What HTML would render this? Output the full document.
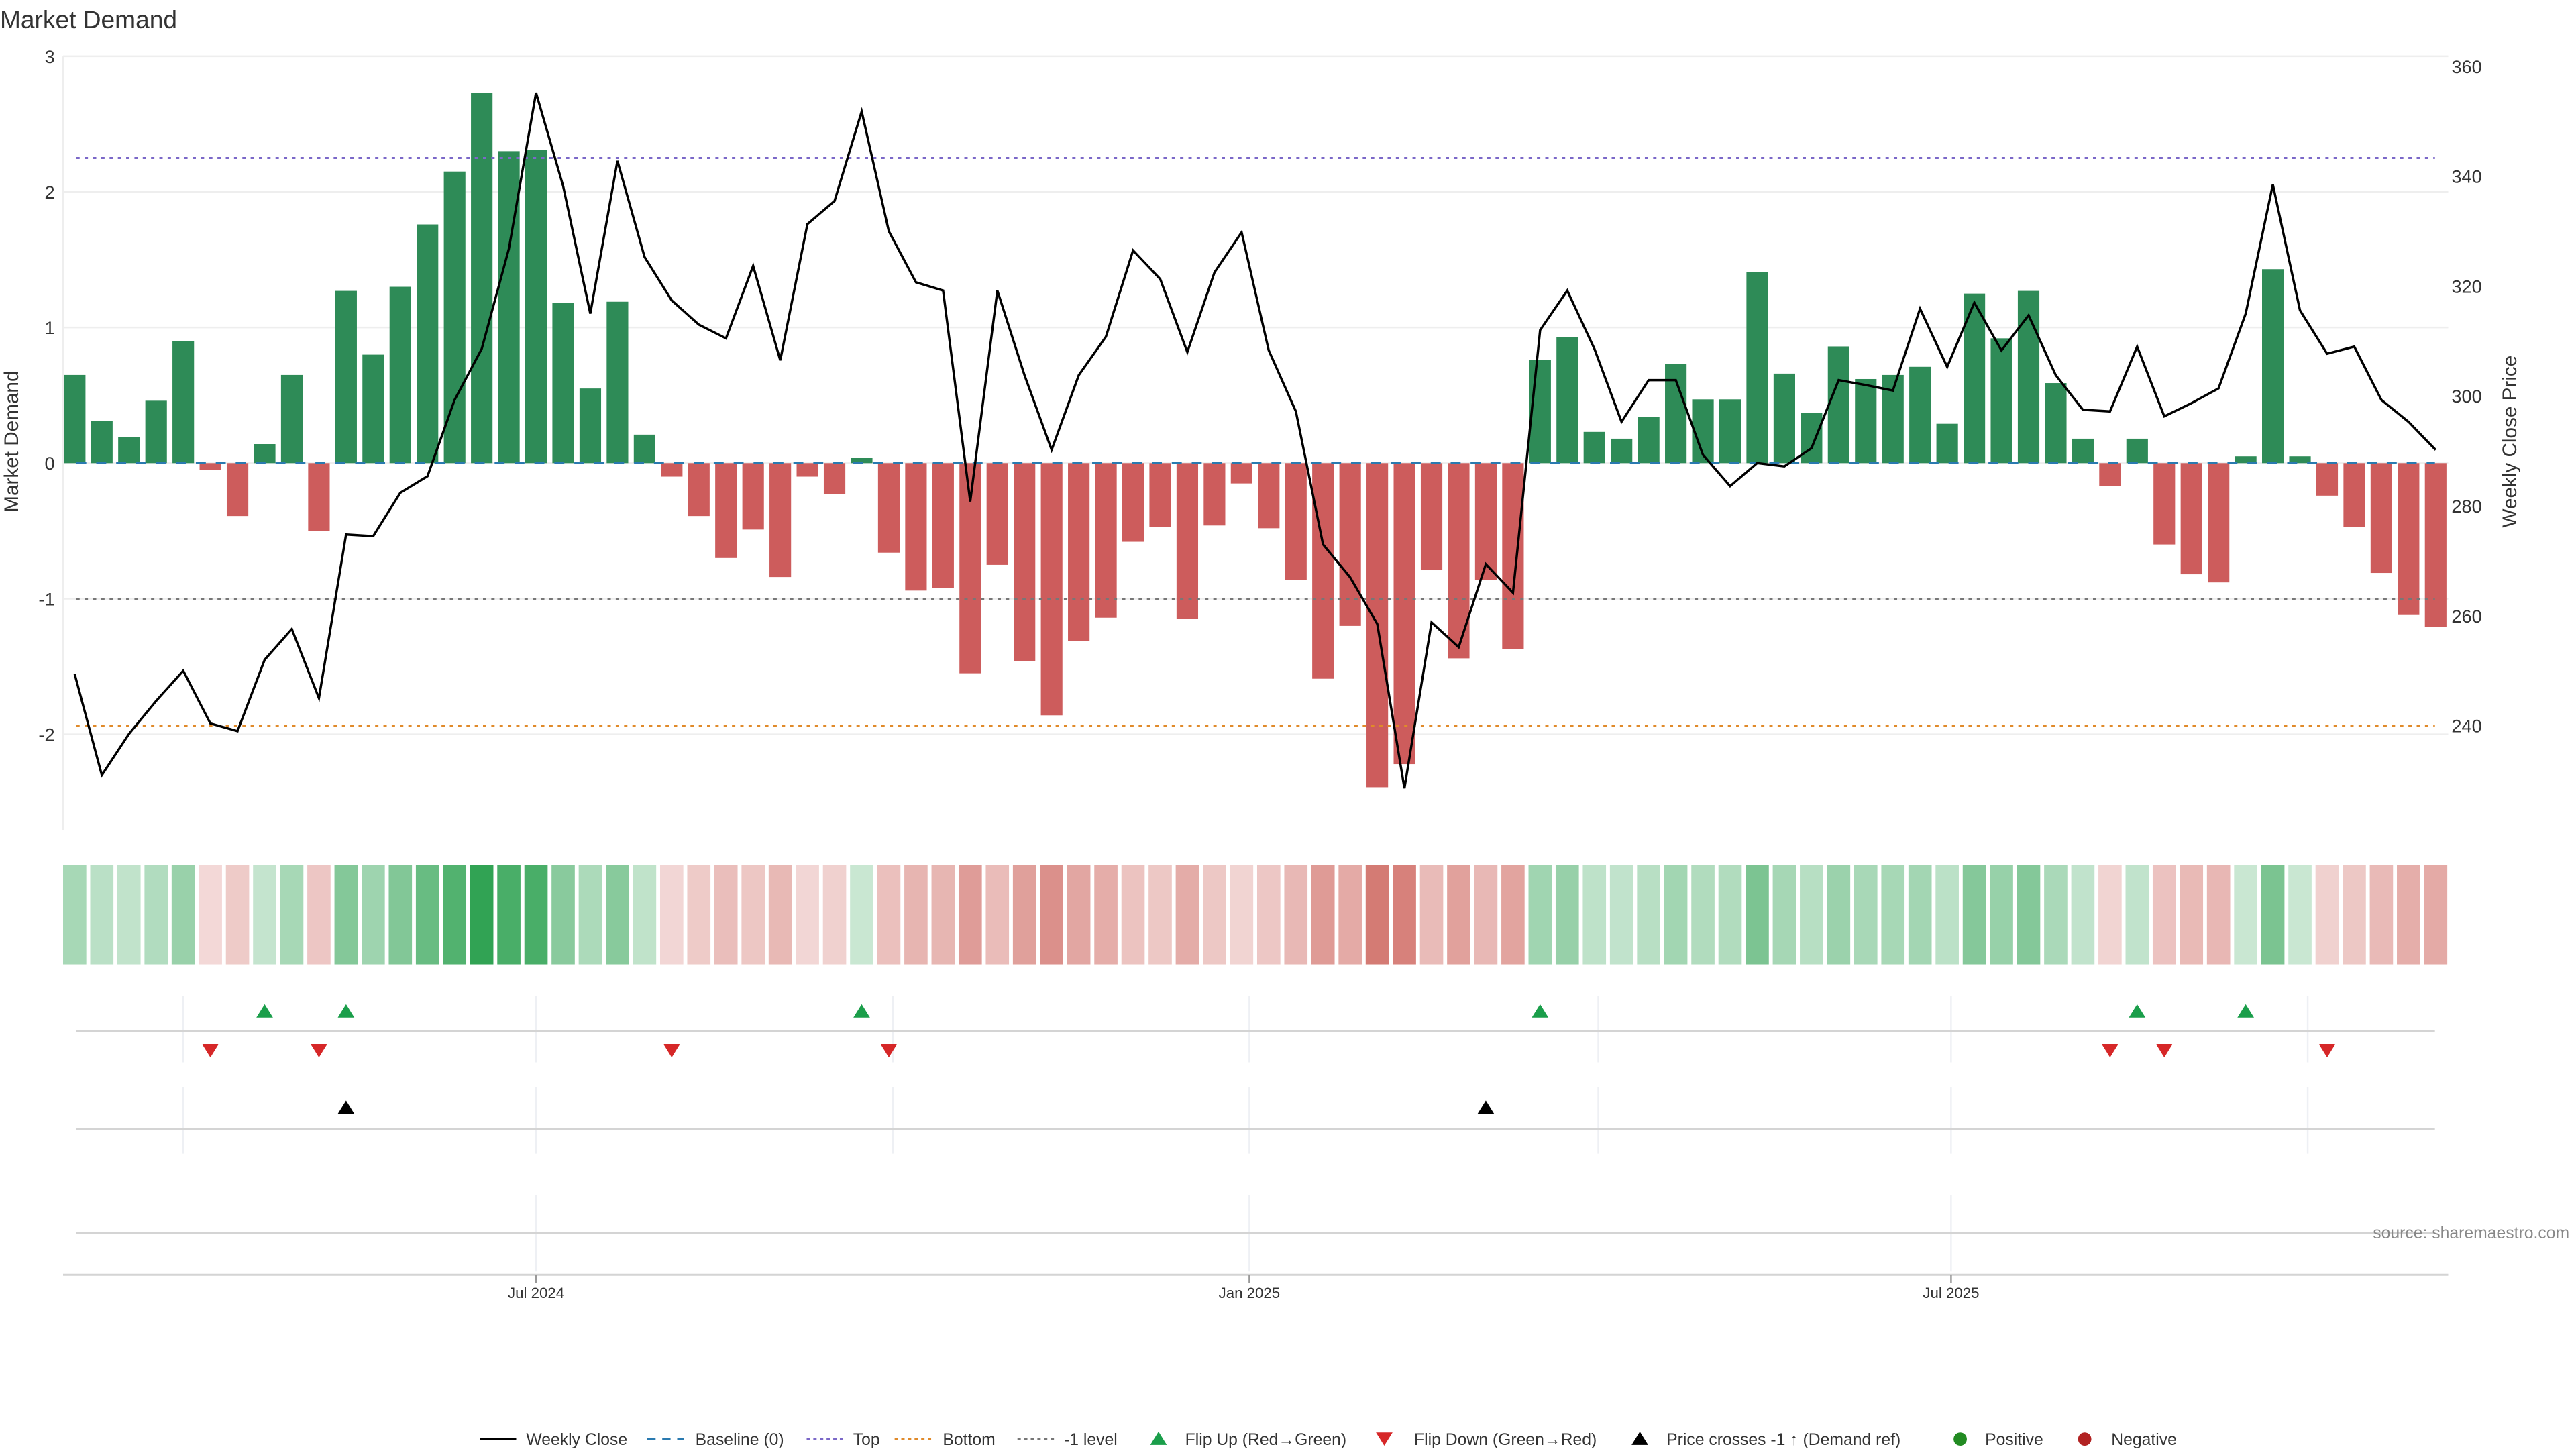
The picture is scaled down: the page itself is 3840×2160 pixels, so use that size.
<!DOCTYPE html>
<html><head><meta charset="utf-8"><title>Market Demand</title>
<style>html,body{margin:0;padding:0;background:#fff;}svg{display:block;font-family:"Liberation Sans","DejaVu Sans",sans-serif;}</style>
</head><body>
<svg id="chart" width="3840" height="2160" viewBox="0 0 1552 873" xmlns="http://www.w3.org/2000/svg">
<text x="0" y="17" font-size="15" fill="#333">Market Demand</text>
<g id="g"></g>
</svg>
<script>
const demand=[0.65,0.31,0.19,0.46,0.9,-0.05,-0.39,0.14,0.65,-0.5,1.27,0.8,1.3,1.76,2.15,2.73,2.3,2.31,1.18,0.55,1.19,0.21,-0.1,-0.39,-0.7,-0.49,-0.84,-0.1,-0.23,0.04,-0.66,-0.94,-0.92,-1.55,-0.75,-1.46,-1.86,-1.31,-1.14,-0.58,-0.47,-1.15,-0.46,-0.15,-0.48,-0.86,-1.59,-1.2,-2.39,-2.22,-0.79,-1.44,-0.86,-1.37,0.76,0.93,0.23,0.18,0.34,0.73,0.47,0.47,1.41,0.66,0.37,0.86,0.62,0.65,0.71,0.29,1.25,0.92,1.27,0.59,0.18,-0.17,0.18,-0.6,-0.82,-0.88,0.05,1.43,0.05,-0.24,-0.47,-0.81,-1.12,-1.21];
const price=[249.4,231,238.5,244.5,250,240.4,239,252,257.6,245,274.8,274.5,282.4,285.4,299.3,308.6,326.8,355.2,338.2,315,342.8,325.3,317.4,313,310.5,323.7,306.5,331.3,335.5,351.8,330,320.7,319.2,280.8,319.2,303.8,290.2,303.8,310.8,326.5,321.3,308,322.5,329.8,308.3,297.2,273,267,258.5,228.6,258.8,254.3,269.4,264.2,312,319.2,308.6,295.3,302.9,302.9,289.3,283.6,287.8,287.2,290.5,302.9,302,301,315.9,305.3,317,308.3,314.7,303.8,297.5,297.2,309,296.3,298.7,301.4,315,338.5,315.6,307.7,309,299.3,295.3,290.2];
const flipUp=[7,10,29,54,76,80];
const flipDown=[5,9,22,30,75,77,83];
const priceCross=[10,52];
const leftTicks=[3,2,1,0,-1,-2];
const rightTicks=[360,340,320,300,280,260,240];
const refLevels={top:2.25,bottom:-1.94,minus1:-1};
const dateTicks=["2024-07-01","2025-01-01","2025-07-01"];
const dateTickLabels=["Jul 2024","Jan 2025","Jul 2025"];
const gridDates=["2024-04-01","2024-07-01","2024-10-01","2025-01-01","2025-04-01","2025-07-01","2025-10-01"];
const startDate="2024-03-04";

const NS="http://www.w3.org/2000/svg";
const g=document.getElementById('g');
function el(tag,attrs,parent){const e=document.createElementNS(NS,tag);for(const k in attrs)e.setAttribute(k,attrs[k]);(parent||g).appendChild(e);return e;}
const day=86400000;
const t0=Date.parse(startDate);
function xDate(s){return 45+(Date.parse(s)-t0)/day*16.35/7;}
function xi(i){return 45+i*16.35;}
function yL(v){return 279-v*81.7;}
function yR(p){return 40+(360-p)*3.31;}
const X0=46,X1=1467;

// gridlines & left ticks
leftTicks.forEach(v=>{
  const l=el('line',{x1:38,x2:1475,y1:yL(v),y2:yL(v),stroke:'#eeeeee','stroke-width':1});
  
  
  const t=el('text',{x:33,y:yL(v)+4,'font-size':11,fill:'#333','text-anchor':'end'});
  t.textContent=v;
  
  
});
rightTicks.forEach(p=>{
  const t=el('text',{x:1477,y:yR(p)+4,'font-size':11,fill:'#333'});
  t.textContent=p;
  
  
});
const la=el('line',{x1:38,x2:38,y1:34,y2:500,stroke:'#eeeeee'});


const yl=el('text',{x:0,y:0,'font-size':12,fill:'#333','text-anchor':'middle',transform:'translate(11,266) rotate(-90)'});
yl.textContent='Market Demand';


const yr=el('text',{x:0,y:0,'font-size':12,fill:'#333','text-anchor':'middle',transform:'translate(1516,266) rotate(-90)'});
yr.textContent='Weekly Close Price';



// bars
demand.forEach((v,i)=>{
  const y0=yL(0),y1=yL(v);
  const r=el('rect',{x:xi(i)-6.5,width:13,y:Math.min(y0,y1),height:Math.max(0.5,Math.abs(y1-y0)),fill:v>=0?'#2e8b57':'#cd5c5c'});
  
  
});
// reference lines
function hline(y,color,dash,name){const l=el('line',{x1:X0,x2:X1,y1:y,y2:y,stroke:color,'stroke-width':1.2,'stroke-dasharray':dash});
  
  }
hline(yL(0),'#2a7ab0','6 6','baseline-zero-line');
hline(yL(refLevels.top),'#7b68c8','2 3','top-level-line');
hline(yL(refLevels.bottom),'#e08a2a','2 3','bottom-level-line');
hline(yL(refLevels.minus1),'#777','2 3','minus-one-level-line');
// price line
const pl=el('polyline',{points:price.map((p,i)=>xi(i)+','+yR(p)).join(' '),fill:'none',stroke:'#000','stroke-width':1.4,'stroke-linejoin':'miter'});



// heat strip
const maxAbs=Math.max(...demand.map(Math.abs));
function mix(c,a){return 'rgb('+c.map(x=>Math.round(a*x+(1-a)*255)).join(',')+')';}
demand.forEach((v,i)=>{
  const a=0.25+0.75*Math.abs(v)/maxAbs;
  const c=v>=0?mix([49,163,84],a):mix([208,109,102],a);
  const r=el('rect',{x:xi(i)-7,width:14,y:521,height:60,fill:c});
  
  
});

// event panels
[[621,600,640],[680,655,695],[743,720,766]].forEach((row,k)=>{
  gridDates.forEach(d=>{
    if(k===2&&!dateTicks.includes(d))return;
    const v=el('line',{x1:xDate(d),x2:xDate(d),y1:row[1],y2:row[2],stroke:'#eef0f4'});
    
    
  });
  const l=el('line',{x1:X0,x2:X1,y1:row[0],y2:row[0],stroke:'#d4d4d4','stroke-width':1.2});
  
  
});
function tri(x,y,up,color,name){
  const p=up?`${x-5},${y+4} ${x+5},${y+4} ${x},${y-4}`:`${x-5},${y-4} ${x+5},${y-4} ${x},${y+4}`;
  const t=el('polygon',{points:p,fill:color});
  
  
}
flipUp.forEach(i=>tri(xi(i),609,true,'#1a9e4a','flip-up-marker'));
flipDown.forEach(i=>tri(xi(i),633,false,'#d62728','flip-down-marker'));
priceCross.forEach(i=>tri(xi(i),667,true,'#000','price-cross-marker'));

// x axis
const xa=el('line',{x1:38,x2:1475,y1:768,y2:768,stroke:'#d4d4d4','stroke-width':1.2});


dateTicks.forEach((d,k)=>{
  const x=xDate(d);
  const tk=el('line',{x1:x,x2:x,y1:768,y2:773,stroke:'#999'});
  
  
  const t=el('text',{x:x,y:782,'font-size':9,fill:'#333','text-anchor':'middle'});
  t.textContent=dateTickLabels[k];
  
  
});
const src=el('text',{x:1548,y:746,'font-size':10,fill:'#888','text-anchor':'end'});
src.textContent='source: sharemaestro.com';



// legend
const LY=867;
function legText(x,s,name){const t=el('text',{x:x,y:LY+3.5,'font-size':10,fill:'#333'});t.textContent=s;
  
  }
function legLine(x,color,dash,w,name){const l=el('line',{x1:x,x2:x+22,y1:LY,y2:LY,stroke:color,'stroke-width':w,'stroke-dasharray':dash});
  
  }
legLine(289,'#000','',1.5,'legend-weekly-close-swatch');legText(317,'Weekly Close','legend-weekly-close');
legLine(390,'#2a7ab0','5 4',1.5,'legend-baseline-swatch');legText(419,'Baseline (0)','legend-baseline');
legLine(486,'#7b68c8','2 2',1.5,'legend-top-swatch');legText(514,'Top','legend-top');
legLine(539,'#e08a2a','2 2',1.5,'legend-bottom-swatch');legText(568,'Bottom','legend-bottom');
legLine(613,'#777','2 2',1.5,'legend-minus-one-swatch');legText(641,'-1 level','legend-minus-one');
tri(698,LY-0.5,true,'#1a9e4a','legend-flip-up-swatch');legText(714,'Flip Up (Red→Green)','legend-flip-up');
tri(834,LY,false,'#d62728','legend-flip-down-swatch');legText(852,'Flip Down (Green→Red)','legend-flip-down');
tri(988,LY-0.5,true,'#000','legend-price-cross-swatch');legText(1004,'Price crosses -1 ↑ (Demand ref)','legend-price-cross');
const d1=el('circle',{cx:1181,cy:LY,r:4,fill:'#228b22'});


legText(1196,'Positive','legend-positive');
const d2=el('circle',{cx:1256,cy:LY,r:4,fill:'#b22222'});


legText(1272,'Negative','legend-negative');
</script>
</body></html>
